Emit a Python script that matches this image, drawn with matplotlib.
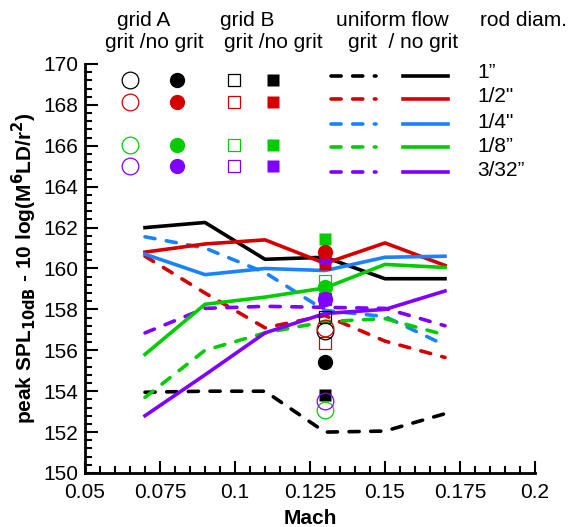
import matplotlib
matplotlib.use("Agg")
import matplotlib.pyplot as plt
from matplotlib.lines import Line2D
from matplotlib.ticker import MultipleLocator

plt.rcParams['font.family'] = ['Liberation Sans', 'DejaVu Sans']
plt.rcParams['mathtext.default'] = 'bf'

# Mach numbers of the uniform flow runs
mach = [0.07, 0.09, 0.11, 0.13, 0.15, 0.17]

# uniform flow, no grit (solid lines)
nogrit_1 = [162.0, 162.25, 160.45, 160.55, 159.5, 159.5]
nogrit_1_2 = [160.8, 161.2, 161.4, 160.25, 161.25, 160.15]
nogrit_1_4 = [160.7, 159.7, 160.0, 159.9, 160.55, 160.6]
nogrit_1_8 = [155.8, 158.25, 158.6, 159.05, 160.2, 160.05]
nogrit_3_32 = [152.8, 154.8, 156.85, 157.8, 158.0, 158.9]

# uniform flow, grit (dashed lines)
grit_1 = [153.95, 154.0, 154.0, 152.0, 152.05, 152.9]
grit_1_2 = [160.6, 158.8, 157.1, 157.7, 156.45, 155.65]
grit_1_4 = [161.55, 161.0, 159.8, 157.95, 157.65, 156.25]
grit_1_8 = [153.7, 156.0, 156.85, 157.4, 157.55, 156.75]
grit_3_32 = [156.85, 158.05, 158.15, 158.1, 158.05, 157.2]

# grid runs, all at M = 0.13  (order: 1", 1/2", 1/8", 3/32")
grid_mach = 0.13
grid_rods = ['1"', '1/2"', '1/8"', '3/32"']
gridA_grit = [156.92, 157.08, 153.1, 153.54]
gridA_nogrit = [155.43, 160.81, 159.11, 158.51]
gridB_grit = [157.65, 156.38, 159.39, 158.5]
gridB_nogrit = [153.83, 160.2, 161.46, 160.5]

rod_labels = ['1\u201d', '1/2"', '1/4"', '1/8\u201d', '3/32\u201d']
colors = ['black', '#d40000', '#1a82ff', '#00cc00', '#8000ff']
grid_colors = ['black', '#d40000', '#00cc00', '#8000ff']

W, H = 580, 527
AX_L, AX_R, AX_T, AX_B = 85, 535, 64, 473   # axes box in pixels
fig = plt.figure(figsize=(W / 100, H / 100), dpi=100)
ax = fig.add_axes([AX_L / W, 1 - AX_B / H, (AX_R - AX_L) / W, (AX_B - AX_T) / H])

LW = 2.6
dash = (0, (2.8, 3.2))
nogrit = [nogrit_1, nogrit_1_2, nogrit_1_4, nogrit_1_8, nogrit_3_32]
grit = [grit_1, grit_1_2, grit_1_4, grit_1_8, grit_3_32]
for vals, c in zip(grit, colors):
    ax.plot(mach, vals, color=c, lw=LW, linestyle=dash, dash_capstyle='round', zorder=2)
for vals, c in zip(nogrit, colors):
    ax.plot(mach, vals, color=c, lw=LW, zorder=2)

for k, c in enumerate(grid_colors):
    ax.plot(grid_mach, gridB_nogrit[k], 's', color=c, ms=8.5, mec='none', zorder=3)
    ax.plot(grid_mach, gridB_grit[k], 's', mfc='none', mec=c, ms=8.5, mew=0.9, zorder=3)
for k, c in enumerate(grid_colors):
    ax.plot(grid_mach, gridA_nogrit[k], 'o', color=c, ms=11, mec='none', zorder=4)
    ax.plot(grid_mach, gridA_grit[k], 'o', mfc='none', mec=c, ms=12, mew=0.9, zorder=4)

ax.set_xlim(0.05, 0.2)
ax.set_ylim(150, 170)
ax.xaxis.set_minor_locator(MultipleLocator(0.005))
ax.yaxis.set_major_locator(MultipleLocator(2))
ax.yaxis.set_minor_locator(MultipleLocator(0.4))
ax.set_xticks([0.05, 0.075, 0.1, 0.125, 0.15, 0.175, 0.2])
ax.set_xticklabels(['0.05', '0.075', '0.1', '0.125', '0.15', '0.175', '0.2'])
ax.tick_params(which='both', direction='in', labelsize=15, width=1.5)
ax.tick_params(which='major', length=9)
ax.tick_params(which='minor', length=5)
ax.tick_params(axis='x', pad=7)
ax.tick_params(axis='y', pad=5)
for s in ['top', 'right']:
    ax.spines[s].set_visible(False)
for s in ['left', 'bottom']:
    ax.spines[s].set_linewidth(2)
ax.set_xlabel('Mach', fontsize=15, fontweight='bold', labelpad=5)
ax.set_ylabel(r'peak SPL$_{10dB}$ - 10 log(M$^{6}$LD/r$^{2}$)',
              fontsize=15, fontweight='bold')
ax.yaxis.set_label_coords((39 - AX_L) / (AX_R - AX_L), 0.5)

# legend drawn by hand inside the axes (pixel layout)
def ax_xy(px, py):
    return (px - AX_L) / (AX_R - AX_L), (AX_B - py) / (AX_B - AX_T)

marker_rows = {0: 80, 1: 102, 3: 145, 4: 166}
line_rows = [76, 99, 124, 147, 172]
label_rows = [73, 97, 123, 146, 171]
for k, py in marker_rows.items():
    c = colors[k]
    for px, mk, filled, ms in [(130, 'o', False, 12), (177, 'o', True, 11),
                               (234, 's', False, 8.5), (273, 's', True, 8.5)]:
        x, y = ax_xy(px, py)
        ax.add_line(Line2D([x], [y], marker=mk, ms=ms, mew=0.9,
                           mfc=c if filled else 'none', mec=c if not filled else 'none',
                           transform=ax.transAxes, clip_on=False))
for k, c in enumerate(colors):
    x0, y = ax_xy(331, line_rows[k])
    x1, _ = ax_xy(376, line_rows[k])
    ax.add_line(Line2D([x0, x1], [y, y], color=c, lw=LW, linestyle=dash,
                       dash_capstyle='round', transform=ax.transAxes, clip_on=False))
    x0, _ = ax_xy(403, line_rows[k])
    x1, _ = ax_xy(448, line_rows[k])
    ax.add_line(Line2D([x0, x1], [y, y], color=c, lw=LW,
                       transform=ax.transAxes, clip_on=False))
    fig.text(477 / W, 1 - label_rows[k] / H, rod_labels[k], fontsize=15,
             ha='left', va='center')

headers = [
    (144, 20, 'grid A'), (154, 43, 'grit /no grit'),
    (247, 20, 'grid B'), (273, 43, 'grit /no grit'),
    (392, 20, 'uniform flow'), (403, 43, 'grit  / no grit'),
    (523, 20, 'rod diam.'),
]
for px, py, t in headers:
    fig.text(px / W, 1 - py / H, t, fontsize=15, ha='center', va='center')

fig.savefig('out.png', dpi=100)
